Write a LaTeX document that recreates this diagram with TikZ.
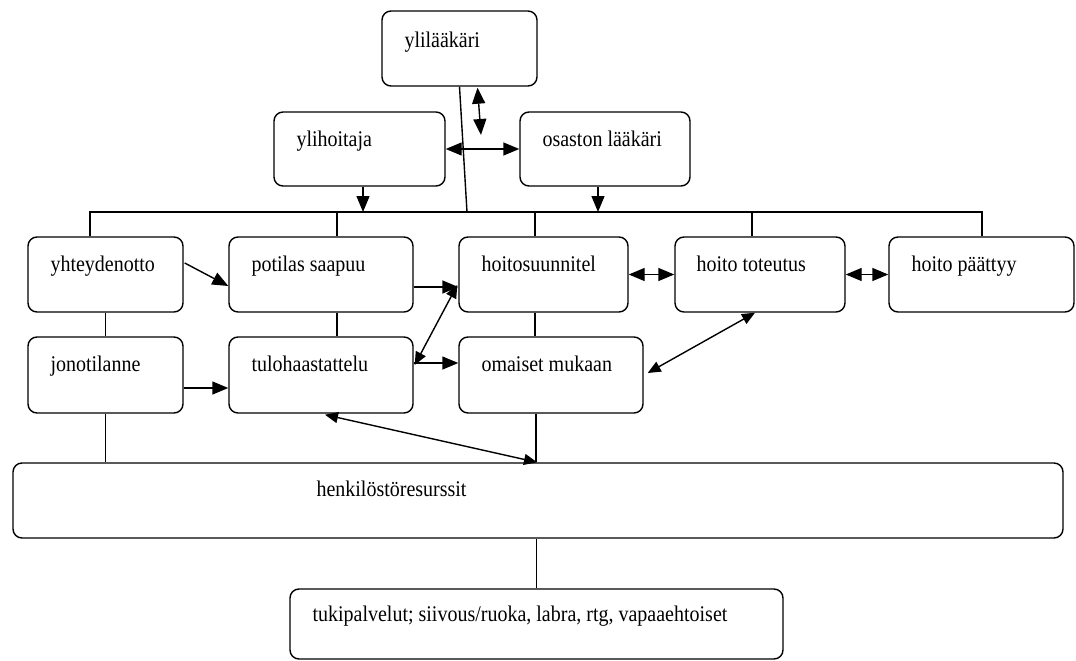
\documentclass[tikz,border=0pt]{standalone}
\usepackage{fontspec}
\setmainfont{Liberation Serif}
\usetikzlibrary{arrows.meta,calc}
\tikzset{
  rbox/.style={draw, rounded corners=9pt, line width=1.4pt, inner sep=0pt},
  lbl/.style={anchor=base west, inner sep=0pt, font=\fontsize{20}{24}\selectfont},
  ln/.style={line width=1.4pt},
  arr/.style={ln, -{Triangle[length=16pt,width=13pt]}},
  darr/.style={ln, {Triangle[length=16pt,width=13pt]}-{Triangle[length=16pt,width=13pt]}},
  sdarr/.style={ln, {Triangle[length=13pt,width=11pt]}-{Triangle[length=13pt,width=11pt]}},
}
\newcommand\tx[1]{\scalebox{1}[1.12]{#1}}
\begin{document}
\begin{tikzpicture}[x=1pt,y=1pt]
\useasboundingbox (0,0) rectangle (1076,-661);
% boxes
\node[rbox, minimum width=155pt, minimum height=75pt] (yl) at (459.5,-48.5) {};
\node[rbox, minimum width=171pt, minimum height=74pt] (yh) at (359.5,-149) {};
\node[rbox, minimum width=170pt, minimum height=74pt] (ol) at (605,-149) {};
\node[rbox, minimum width=155pt, minimum height=75pt] (yhteyd) at (105.5,-274.5) {};
\node[rbox, minimum width=184pt, minimum height=75pt] (potilas) at (321,-274.5) {};
\node[rbox, minimum width=169pt, minimum height=75pt] (hoitosu) at (543.5,-274.5) {};
\node[rbox, minimum width=170pt, minimum height=75pt] (toteutus) at (760,-274.5) {};
\node[rbox, minimum width=185pt, minimum height=75pt] (paattyy) at (981.5,-274.5) {};
\node[rbox, minimum width=155pt, minimum height=76pt] (jono) at (105.5,-375) {};
\node[rbox, minimum width=184pt, minimum height=76pt] (tulo) at (321,-375) {};
\node[rbox, minimum width=184pt, minimum height=76pt] (omaiset) at (551,-375) {};
\node[rbox, minimum width=1050pt, minimum height=75pt] (henk) at (538,-500.5) {};
\node[rbox, minimum width=493pt, minimum height=70pt] (tuki) at (536.5,-624) {};
% labels
\node[lbl] (tyl) at ($(yl.north west)+(23,-37)$) {\tx{ylilääkäri}};
\node[lbl] (tyh) at ($(yh.north west)+(23,-35)$) {\tx{ylihoitaja}};
\node[lbl] (tol) at ($(ol.north west)+(23,-35)$) {\tx{osaston lääkäri}};
\node[lbl] (tyhteyd) at ($(yhteyd.north west)+(23,-35)$) {\tx{yhteydenotto}};
\node[lbl] (tpotilas) at ($(potilas.north west)+(23,-35)$) {\tx{potilas saapuu}};
\node[lbl] (thoitosu) at ($(hoitosu.north west)+(23,-35)$) {\tx{hoitosuunnitel}};
\node[lbl] (ttoteutus) at ($(toteutus.north west)+(22,-35)$) {\tx{hoito toteutus}};
\node[lbl] (tpaattyy) at ($(paattyy.north west)+(23,-35)$) {\tx{hoito päättyy}};
\node[lbl] (tjono) at ($(jono.north west)+(23,-35)$) {\tx{jonotilanne}};
\node[lbl] (ttulo) at ($(tulo.north west)+(23,-35)$) {\tx{tulohaastattelu}};
\node[lbl] (tomaiset) at ($(omaiset.north west)+(23,-35)$) {\tx{omaiset mukaan}};
\node[lbl] (thenk) at ($(henk.north west)+(304,-34)$) {\tx{henkilöstöresurssit}};
\node[lbl] (ttuki) at ($(tuki.north west)+(23,-33)$) {\tx{tukipalvelut; siivous/ruoka, labra, rtg, vapaaehtoiset}};
% bus coordinates
\coordinate (b1) at (90,-212);
\coordinate (b2) at (337,-212);
\coordinate (bY) at (467,-212);
\coordinate (b3) at (535,-212);
\coordinate (b4) at (752,-212);
\coordinate (b5) at (982,-212);
\coordinate (free) at (481,-135);
% helper points on box borders
\coordinate (yhs) at ($(yh.south)+(3.5,0)$);
\coordinate (ols) at ($(ol.south)+(-7,0)$);
\coordinate (oms) at ($(omaiset.south)+(-15,0)$);
% bus
\draw[ln] (yhteyd.north -| b1) -- (b1) -- (b5) -- (paattyy.north -| b5);
\draw[ln] (b2) -- (b2 |- potilas.north);
\draw[ln] (b3) -- (b3 |- hoitosu.north);
\draw[ln] (b4) -- (b4 |- toteutus.north);
\draw[ln] (yl.south) -- (bY);
% top arrows
\draw[darr] ($(yl.south)+(18,-1)$) -- (free);
\draw[darr] (yh.east) -- (ol.west);
\draw[arr] (yhs) -- (yhs |- b1);
\draw[arr] (ols) -- (ols |- b1);
% row connectors
\draw[arr] ($(yhteyd.east)+(1,11.5)$) -- ($(potilas.west)+(0,-11.5)$);
\draw[arr] ($(potilas.east)+(0,-12.5)$) -- ($(hoitosu.west)+(0,-12.5)$);
\draw[sdarr] ($(tulo.east)+(1,10)$) -- ($(hoitosu.west)+(-1,-10.5)$);
\draw[arr] ($(tulo.east)+(0,12)$) -- ($(omaiset.west)+(0,12)$);
\draw[arr] ($(jono.east)+(0,-13)$) -- ($(tulo.west)+(0,-13)$);
\draw[darr] (hoitosu.east) -- (toteutus.west);
\draw[darr] (toteutus.east) -- (paattyy.west);
\draw[sdarr] ($(toteutus.south)+(-5,0)$) -- ($(omaiset.east)+(4,2)$);
% vertical links
\draw[ln] (yhteyd.south) -- (jono.north);
\draw[ln] ($(potilas.south)+(16,0)$) -- ($(tulo.north)+(16,0)$);
\draw[ln] ($(hoitosu.south)+(-8.5,0)$) -- ($(omaiset.north)+(-16,0)$);
\draw[ln] (jono.south) -- (jono.south |- henk.north);
\draw[ln] (oms) -- (oms |- henk.north);
\draw[sdarr] ($(tulo.south)+(4,-1)$) -- ($(henk.north)+(-1,0)$);
\draw[ln] (tuki.north) -- (tuki.north |- henk.south);
\end{tikzpicture}
\end{document}
